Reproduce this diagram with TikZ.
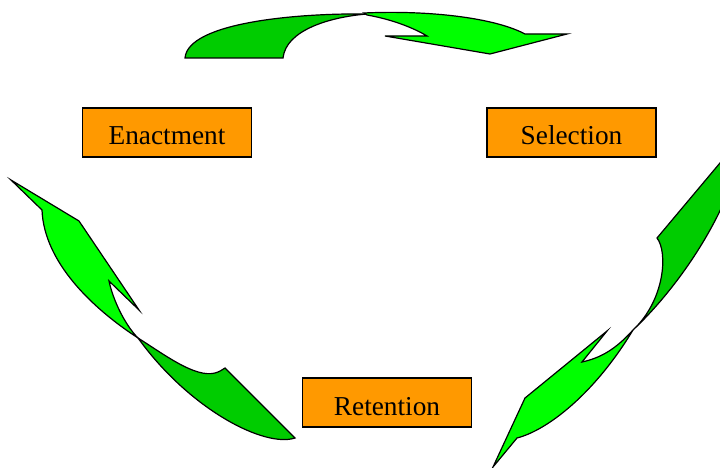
\documentclass[tikz,border=0pt]{standalone}
\usepackage{fontspec}
\setmainfont{Liberation Serif}
\definecolor{darkg}{HTML}{00CC00}
\definecolor{lightg}{HTML}{00FF00}
\definecolor{boxor}{HTML}{FF9900}
\begin{document}
\begin{tikzpicture}[x=1pt,y=-1pt,
  dk/.style={fill=darkg,draw=black,line width=1.2pt,line join=miter},
  lt/.style={fill=lightg,draw=black,line width=1.2pt,line join=miter},
  stage/.style={draw=black,line width=1.2pt,fill=boxor,minimum width=169pt,minimum height=49pt,inner sep=0pt,text height=25pt,text depth=0pt,font=\fontsize{27.3}{32}\selectfont}]
\useasboundingbox (0,0) rectangle (720,468);
\clip (0,0) rectangle (720,468);
% top arrow
\path[dk] (185,58) .. controls (188,22) and (300,13) .. (367,14)
  .. controls (330,17) and (286,30) .. (283,58) -- cycle;
\path[lt] (364,13) .. controls (430,10) and (495,18) .. (525,34) -- (567,34) -- (490,54) -- (385,36) -- (427,36)
  .. controls (412,27) and (390,19) .. (367,15) -- cycle;
% left arrow
\path[dk] (138,338) .. controls (165,355) and (195,378) .. (215,373)
  .. controls (219,372) and (222,370) .. (225,368) -- (295,438)
  .. controls (265,448) and (190,410) .. (138,338) -- cycle;
\path[lt] (42,210) -- (11,180) -- (79,221) -- (139,310) -- (109,281)
  .. controls (113,300) and (125,325) .. (138,338)
  .. controls (92,308) and (44,262) .. (42,210) -- cycle;
% right arrow
\path[dk] (657,238) -- (725,157) -- (725,200) .. controls (702,252) and (665,300) .. (633,330)
  .. controls (665,300) and (668,252) .. (657,238) -- cycle;
\path[lt] (633,330) .. controls (615,350) and (600,358) .. (582,362) -- (607,331) -- (525,398) -- (493,467) -- (517,438)
  .. controls (548,430) and (595,393) .. (633,330) -- cycle;
% stages
\node[stage] (enact) at (167,132.5) {Enactment};
\node[stage] (select) at (571.5,132.5) {Selection};
\node[stage] (retain) at (387,402.5) {Retention};
\end{tikzpicture}
\end{document}
